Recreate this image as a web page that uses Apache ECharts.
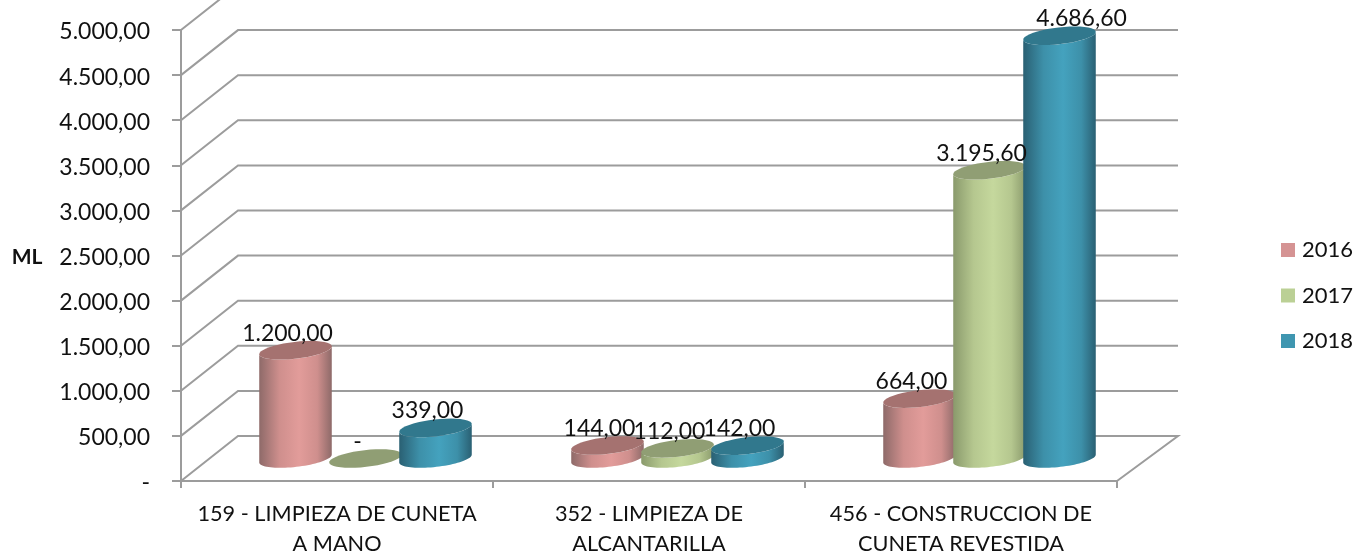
<!DOCTYPE html>
<html lang="en">

<head>
    <meta charset="UTF-8">
    <title>ML por actividad</title>
    <script type="text/javascript" src="https://cdn.jsdelivr.net/npm/echarts@6/dist/echarts.min.js"></script>
    <style>
        html,
        body {
            margin: 0;
            padding: 0;
            width: 100%;
            height: 100%;
            background: #fff;
        }

        #container {
            width: 1355px;
            height: 552px;
        }
    </style>
</head>

<body>
    <div id="container"></div>
    <script>
        const categories = [
            '159 - LIMPIEZA DE CUNETA\nA MANO',
            '352 - LIMPIEZA DE\nALCANTARILLA',
            '456 - CONSTRUCCION DE\nCUNETA REVESTIDA',
        ];
        const years = ['2016', '2017', '2018'];
        const values2016 = [1200, 144, 664];
        const values2017 = [0, 112, 3195.6];
        const values2018 = [339, 142, 4686.6];
        const yTicks = [0, 500, 1000, 1500, 2000, 2500, 3000, 3500, 4000, 4500, 5000];

        const FONT = 'Lato';
        const TEXT = '#111';
        const GRID = '#9c9c9c';
        // the fake 3d depth of the chart box, in px
        const DEPTH_X = 57;
        const DEPTH_Y = 45;
        const BAR_STEP = 70;
        const RX = 36.5;
        const RY = 8.4;
        const TILT = 6.5 * Math.PI / 180;

        const shades = [
            { legend: '#D59393', light: '#E29C9A', mid: '#CF8F8D', dark: '#8E6A69', top: '#A57270' },
            { legend: '#BBD095', light: '#C5D89D', mid: '#B5C78F', dark: '#8A9A6C', top: '#909E74' },
            { legend: '#3F96B0', light: '#44A2BE', mid: '#3D90A9', dark: '#2A6073', top: '#31788D' },
        ];

        function fmt(v) {
            if (!v) return '-';
            let parts = v.toFixed(2).split('.');
            return parts[0].replace(/\B(?=(\d{3})+$)/g, '.') + ',' + parts[1];
        }

        function arc(cx, cy, from, to) {
            let pts = [];
            for (let i = 0; i <= 40; i++) {
                let t = from + (to - from) * i / 40;
                let ex = RX * Math.cos(t);
                let ey = RY * Math.sin(t);
                pts.push([
                    cx + ex * Math.cos(TILT) + ey * Math.sin(TILT),
                    cy - ex * Math.sin(TILT) + ey * Math.cos(TILT),
                ]);
            }
            return pts;
        }

        function cylinder(idx) {
            let s = shades[idx];
            return function (params, api) {
                let cat = api.value(0);
                let val = api.value(1);
                let base = api.coord([cat, 0]);
                let top = api.coord([cat, val]);
                let cx = base[0] + DEPTH_X / 2 + (idx - 1) * BAR_STEP;
                let by = base[1] - DEPTH_Y / 2;
                let ty = top[1] - DEPTH_Y / 2;
                let side = arc(cx, by, 0, Math.PI).concat(arc(cx, ty, Math.PI, 0));
                // excel moved the biggest label off its bar
                let labelDx = val > 4000 ? 22 : -8;
                return {
                    type: 'group',
                    children: [{
                        type: 'polygon',
                        shape: { points: side },
                        style: {
                            fill: {
                                type: 'linear', x: 0, y: 0, x2: 1, y2: 0,
                                colorStops: [
                                    { offset: 0, color: s.dark },
                                    { offset: 0.28, color: s.mid },
                                    { offset: 0.55, color: s.light },
                                    { offset: 0.8, color: s.mid },
                                    { offset: 1, color: s.dark },
                                ],
                            },
                        },
                    }, {
                        type: 'polygon',
                        shape: { points: arc(cx, ty, 0, Math.PI * 2) },
                        style: { fill: s.top },
                    }, {
                        type: 'text',
                        z2: 100,
                        style: {
                            x: cx + labelDx,
                            y: ty - 17,
                            text: fmt(val),
                            fill: TEXT,
                            font: '23px ' + FONT,
                            align: 'center',
                            verticalAlign: 'middle',
                        },
                    }],
                };
            };
        }

        function walls(params, api) {
            let box = params.coordSys;
            let y = api.coord([0, api.value(1)])[1];
            let left = box.x;
            let right = box.x + box.width;
            let pts = [[left, y], [left + DEPTH_X, y - DEPTH_Y], [right + 61, y - DEPTH_Y]];
            if (api.value(1) === 0) pts.push([right, y]);
            return {
                type: 'polyline',
                shape: { points: pts },
                style: { stroke: GRID, lineWidth: 2, fill: null },
            };
        }

        let chart = echarts.init(document.getElementById('container'));
        chart.setOption({
            animation: false,
            textStyle: { fontFamily: FONT },
            grid: { left: 181, right: 238, top: 30, bottom: 71, outerBoundsMode: 'none' },
            legend: {
                data: years,
                orient: 'vertical',
                left: 1281,
                top: 239,
                padding: 0,
                icon: 'rect',
                itemWidth: 14,
                itemHeight: 14,
                itemGap: 23.5,
                textStyle: { fontFamily: FONT, fontSize: 22, color: TEXT, padding: [0, 0, 0, 2] },
            },
            xAxis: {
                type: 'category',
                data: categories,
                axisLine: { lineStyle: { color: GRID, width: 2 } },
                axisTick: { show: true, length: 7, lineStyle: { color: GRID, width: 2 } },
                axisLabel: { fontSize: 21.7, color: TEXT, lineHeight: 30, margin: 18, interval: 0 },
            },
            yAxis: {
                type: 'value',
                min: 0,
                max: 5000,
                interval: 500,
                name: '{m|ML}',
                nameLocation: 'middle',
                nameRotate: 0,
                nameGap: 138.5,
                nameTextStyle: {
                    rich: {
                        m: { fontFamily: FONT, fontSize: 21, fontWeight: 'bold', color: TEXT, padding: [4, 0, 0, 0] },
                    },
                },
                axisLine: { show: true, lineStyle: { color: GRID, width: 2 } },
                axisTick: { show: true, length: 9, lineStyle: { color: GRID, width: 2 } },
                splitLine: { show: false },
                axisLabel: {
                    margin: 31,
                    formatter: v => '{v|' + fmt(v) + '}',
                    rich: {
                        v: { fontFamily: FONT, fontSize: 23, color: TEXT, padding: [4, 0, 0, 0] },
                    },
                },
            },
            series: [{
                type: 'custom',
                name: 'walls',
                renderItem: walls,
                data: yTicks.map(t => [0, t]),
                silent: true,
            }].concat([values2016, values2017, values2018].map((vals, i) => ({
                type: 'custom',
                name: years[i],
                renderItem: cylinder(i),
                itemStyle: { color: shades[i].legend },
                data: vals.map((v, c) => [c, v]),
            }))),
        });
    </script>
</body>

</html>
